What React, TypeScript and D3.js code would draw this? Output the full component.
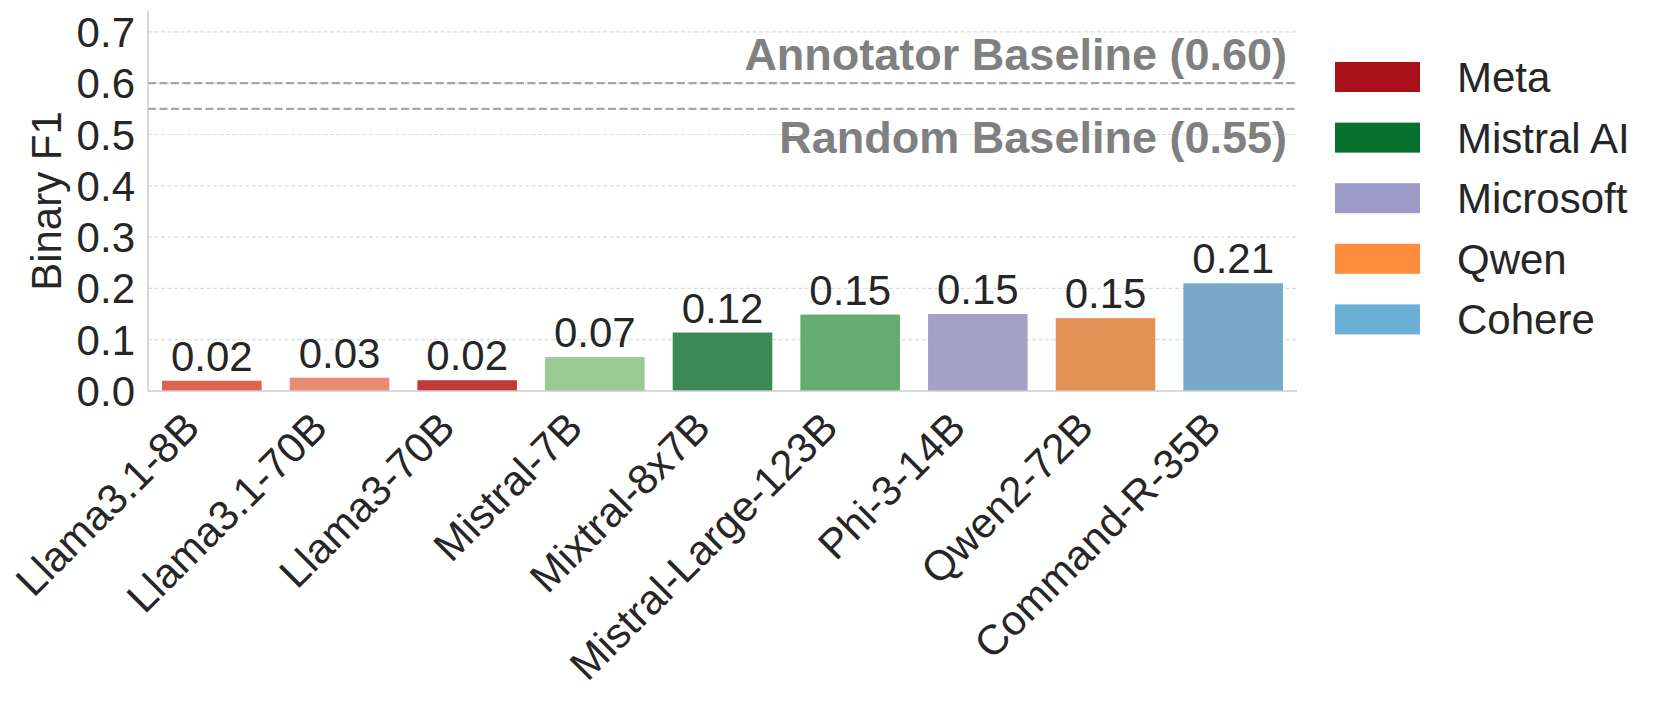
import React, { useRef, useEffect } from "react";
import * as d3 from "d3";

// model scores (bar heights) and the printed labels above them
const models = [
  "Llama3.1-8B",
  "Llama3.1-70B",
  "Llama3-70B",
  "Mistral-7B",
  "Mixtral-8x7B",
  "Mistral-Large-123B",
  "Phi-3-14B",
  "Qwen2-72B",
  "Command-R-35B",
];
const scores = [0.02, 0.026, 0.021, 0.066, 0.114, 0.149, 0.15, 0.142, 0.21];
const scoreLabels = ["0.02", "0.03", "0.02", "0.07", "0.12", "0.15", "0.15", "0.15", "0.21"];
const barColors = [
  "#de6350",
  "#e88b75",
  "#c03a3a",
  "#99ca93",
  "#3b8a56",
  "#64ac6f",
  "#a5a1c4",
  "#e49157",
  "#79a9c9",
];

const companies = ["Meta", "Mistral AI", "Microsoft", "Qwen", "Cohere"];
const companyColors = ["#ab1119", "#07702f", "#9e9ac8", "#fd8d3c", "#6baed6"];

const yTicks = [0, 0.1, 0.2, 0.3, 0.4, 0.5, 0.6, 0.7];

const annotatorBaseline = 0.6;
const randomBaseline = 0.55;

const WIDTH = 1660;
const HEIGHT = 701;
const FONT = "'Liberation Sans', Arial, Helvetica, sans-serif";
const FS = 42;
const TEXT = "#262626";

const App: React.FC = () => {
  const svgRef = useRef<SVGSVGElement>(null);

  useEffect(() => {
    if (!svgRef.current) return;
    const svg = d3.select(svgRef.current);
    svg.selectAll("*").remove();

    const left = 148;
    const right = 1297;
    const top = 11;
    const bottom = 391;

    const y = d3.scaleLinear().domain([0, 0.7408]).range([bottom, top]);
    const x = d3.scaleBand().domain(models).range([left, right]).paddingInner(0.22).paddingOuter(0.11);

    // grid
    svg
      .append("g")
      .selectAll("line")
      .data(yTicks.slice(1))
      .join("line")
      .attr("x1", left)
      .attr("x2", right)
      .attr("y1", (d) => y(d))
      .attr("y2", (d) => y(d))
      .attr("stroke", "#dcdcdc")
      .attr("stroke-width", 1.2)
      .attr("stroke-dasharray", "4,2.5");

    // bars
    svg
      .append("g")
      .selectAll("rect")
      .data(models)
      .join("rect")
      .attr("x", (d) => x(d) as number)
      .attr("y", (_, i) => y(scores[i]))
      .attr("width", x.bandwidth())
      .attr("height", (_, i) => bottom - y(scores[i]))
      .attr("fill", (_, i) => barColors[i]);

    // value labels
    svg
      .append("g")
      .selectAll("text")
      .data(models)
      .join("text")
      .attr("x", (d) => (x(d) as number) + x.bandwidth() / 2)
      .attr("y", (_, i) => y(scores[i]) - 10)
      .attr("text-anchor", "middle")
      .attr("font-family", FONT)
      .attr("font-size", FS)
      .attr("fill", TEXT)
      .text((_, i) => scoreLabels[i]);

    // baselines
    [annotatorBaseline, randomBaseline].forEach((v) => {
      svg
        .append("line")
        .attr("x1", left)
        .attr("x2", right)
        .attr("y1", y(v))
        .attr("y2", y(v))
        .attr("stroke", "#a6a6a6")
        .attr("stroke-width", 2.2)
        .attr("stroke-dasharray", "8,3.5");
    });

    svg
      .append("text")
      .attr("x", right - 10)
      .attr("y", y(annotatorBaseline) - 13)
      .attr("text-anchor", "end")
      .attr("font-family", FONT)
      .attr("font-weight", "bold")
      .attr("font-size", 45)
      .attr("fill", "#808080")
      .text("Annotator Baseline (0.60)");

    svg
      .append("text")
      .attr("x", right - 10)
      .attr("y", y(randomBaseline) + 44)
      .attr("text-anchor", "end")
      .attr("font-family", FONT)
      .attr("font-weight", "bold")
      .attr("font-size", 45)
      .attr("fill", "#808080")
      .text("Random Baseline (0.55)");

    // spines
    svg
      .append("line")
      .attr("x1", left)
      .attr("x2", left)
      .attr("y1", top)
      .attr("y2", bottom)
      .attr("stroke", "#cccccc")
      .attr("stroke-width", 1.5);
    svg
      .append("line")
      .attr("x1", left)
      .attr("x2", right)
      .attr("y1", bottom)
      .attr("y2", bottom)
      .attr("stroke", "#cccccc")
      .attr("stroke-width", 1.5);

    // y ticks
    svg
      .append("g")
      .selectAll("text")
      .data(yTicks)
      .join("text")
      .attr("x", left - 13)
      .attr("y", (d) => y(d) + 15)
      .attr("text-anchor", "end")
      .attr("font-family", FONT)
      .attr("font-size", FS)
      .attr("fill", TEXT)
      .text((d) => d3.format(".1f")(d));

    svg
      .append("text")
      .attr("transform", `translate(61,${(top + bottom) / 2}) rotate(-90)`)
      .attr("text-anchor", "middle")
      .attr("font-family", FONT)
      .attr("font-size", FS)
      .attr("fill", TEXT)
      .text("Binary F1");

    // x tick labels
    svg
      .append("g")
      .selectAll("text")
      .data(models)
      .join("text")
      .attr("transform", (d) => {
        const cx = (x(d) as number) + x.bandwidth() / 2 - 10;
        return `translate(${cx},${bottom + 39}) rotate(-45)`;
      })
      .attr("text-anchor", "end")
      .attr("font-family", FONT)
      .attr("font-size", FS)
      .attr("fill", TEXT)
      .text((d) => d);

    // legend
    const legend = svg.append("g").attr("transform", "translate(1335,62)");
    const rows = legend
      .selectAll("g")
      .data(companies)
      .join("g")
      .attr("transform", (_, i) => `translate(0,${i * 60.6})`);
    rows
      .append("rect")
      .attr("width", 85)
      .attr("height", 30)
      .attr("fill", (_, i) => companyColors[i]);
    rows
      .append("text")
      .attr("x", 122)
      .attr("y", 30)
      .attr("font-family", FONT)
      .attr("font-size", FS)
      .attr("fill", TEXT)
      .text((d) => d);
  }, []);

  return (
    <svg
      ref={svgRef}
      width={WIDTH}
      height={HEIGHT}
      style={{ position: "absolute", left: 0, top: 0, background: "#ffffff" }}
    ></svg>
  );
};

export default App;
